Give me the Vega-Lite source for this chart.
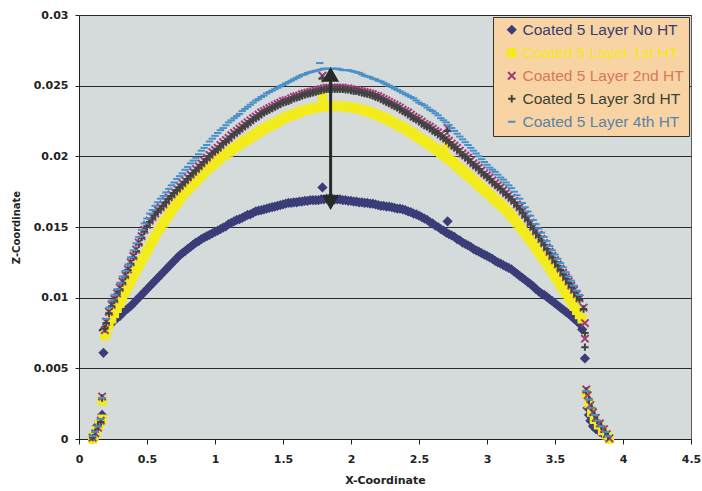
{
"$schema":"https://vega.github.io/schema/vega-lite/v6.json",
"width":612,"height":424,
"autosize":{"type":"none"},
"padding":{"left":79,"top":15,"right":11,"bottom":52},
"background":"white",
"config":{"view":{"fill":"#d5dbdb","stroke":"#5a5a5a","strokeWidth":1}},
"encoding":{
 "x":{"field":"x","type":"quantitative","scale":{"domain":[0,4.5],"nice":false,"zero":false},
  "axis":{"title":"X-Coordinate","values":[0,0.5,1,1.5,2,2.5,3,3.5,4,4.5],"format":"~g","grid":false,
   "labelFont":"DejaVu Sans","labelFontWeight":"bold","labelFontSize":11,"labelColor":"#222","labelPadding":9,
   "tickColor":"#222","tickSize":5,"domainColor":"#222","labelFlush":false,
   "titleFont":"DejaVu Sans","titleFontWeight":"bold","titleFontSize":11,"titleColor":"#222","titlePadding":10}},
 "y":{"field":"z","type":"quantitative","scale":{"domain":[0,0.03],"nice":false},
  "axis":{"title":"Z-Coordinate","values":[0,0.005,0.01,0.015,0.02,0.025,0.03],"format":"~g","grid":true,"gridColor":"#2a2a2a","gridOpacity":1,"gridWidth":1,
   "labelFont":"DejaVu Sans","labelFontWeight":"bold","labelFontSize":11,"labelColor":"#222","labelPadding":7,
   "tickColor":"#222","tickSize":4,"domainColor":"#222",
   "titleFont":"DejaVu Sans","titleFontWeight":"bold","titleFontSize":10,"titleColor":"#222","titlePadding":12}}
},
"layer":[
{
"data":{"values":[
{"s":"No HT","x":0.10,"z":0.0000},{"s":"No HT","x":0.11,"z":0.0003},{"s":"No HT","x":0.13,"z":0.0009},{"s":"No HT","x":0.15,"z":0.0012},{"s":"No HT","x":0.17,"z":0.0017},{"s":"No HT","x":0.18,"z":0.0061},
{"s":"No HT","x":0.18,"z":0.0077},{"s":"No HT","x":0.20,"z":0.00785},{"s":"No HT","x":0.22,"z":0.0080},{"s":"No HT","x":0.24,"z":0.0082},{"s":"No HT","x":0.26,"z":0.0084},{"s":"No HT","x":0.28,"z":0.00855},{"s":"No HT","x":0.30,"z":0.0087},{"s":"No HT","x":0.32,"z":0.0089},{"s":"No HT","x":0.34,"z":0.0091},{"s":"No HT","x":0.36,"z":0.00925},{"s":"No HT","x":0.38,"z":0.0094},{"s":"No HT","x":0.40,"z":0.0096},{"s":"No HT","x":0.42,"z":0.0098},{"s":"No HT","x":0.44,"z":0.0100},{"s":"No HT","x":0.46,"z":0.0102},{"s":"No HT","x":0.48,"z":0.0104},{"s":"No HT","x":0.50,"z":0.0106},{"s":"No HT","x":0.52,"z":0.0108},{"s":"No HT","x":0.54,"z":0.0110},{"s":"No HT","x":0.56,"z":0.0112},{"s":"No HT","x":0.58,"z":0.0114},{"s":"No HT","x":0.60,"z":0.0116},{"s":"No HT","x":0.62,"z":0.0118},{"s":"No HT","x":0.64,"z":0.0120},{"s":"No HT","x":0.66,"z":0.0122},{"s":"No HT","x":0.68,"z":0.0124},{"s":"No HT","x":0.70,"z":0.0126},{"s":"No HT","x":0.72,"z":0.0128},{"s":"No HT","x":0.74,"z":0.0130},{"s":"No HT","x":0.76,"z":0.01315},{"s":"No HT","x":0.78,"z":0.0133},{"s":"No HT","x":0.80,"z":0.01345},{"s":"No HT","x":0.82,"z":0.0136},{"s":"No HT","x":0.84,"z":0.01375},{"s":"No HT","x":0.86,"z":0.0139},{"s":"No HT","x":0.88,"z":0.0140},{"s":"No HT","x":0.90,"z":0.01415},{"s":"No HT","x":0.92,"z":0.01425},{"s":"No HT","x":0.94,"z":0.01435},{"s":"No HT","x":0.96,"z":0.01445},{"s":"No HT","x":0.98,"z":0.01455},{"s":"No HT","x":1.00,"z":0.01465},{"s":"No HT","x":1.02,"z":0.01475},{"s":"No HT","x":1.04,"z":0.01485},{"s":"No HT","x":1.06,"z":0.01495},{"s":"No HT","x":1.08,"z":0.01505},{"s":"No HT","x":1.10,"z":0.0152},{"s":"No HT","x":1.12,"z":0.0153},{"s":"No HT","x":1.14,"z":0.0154},{"s":"No HT","x":1.16,"z":0.0155},{"s":"No HT","x":1.18,"z":0.01555},{"s":"No HT","x":1.20,"z":0.01565},{"s":"No HT","x":1.22,"z":0.01575},{"s":"No HT","x":1.24,"z":0.01585},{"s":"No HT","x":1.26,"z":0.0159},{"s":"No HT","x":1.28,"z":0.0160},{"s":"No HT","x":1.30,"z":0.0161},{"s":"No HT","x":1.32,"z":0.01615},{"s":"No HT","x":1.34,"z":0.0162},{"s":"No HT","x":1.36,"z":0.01625},{"s":"No HT","x":1.38,"z":0.0163},{"s":"No HT","x":1.40,"z":0.01635},{"s":"No HT","x":1.42,"z":0.0164},{"s":"No HT","x":1.44,"z":0.01645},{"s":"No HT","x":1.46,"z":0.0165},{"s":"No HT","x":1.48,"z":0.01655},{"s":"No HT","x":1.50,"z":0.0166},{"s":"No HT","x":1.52,"z":0.01665},{"s":"No HT","x":1.54,"z":0.0167},{"s":"No HT","x":1.56,"z":0.0167},{"s":"No HT","x":1.58,"z":0.01675},{"s":"No HT","x":1.60,"z":0.01675},{"s":"No HT","x":1.62,"z":0.0168},{"s":"No HT","x":1.64,"z":0.0168},{"s":"No HT","x":1.66,"z":0.01685},{"s":"No HT","x":1.68,"z":0.01685},{"s":"No HT","x":1.70,"z":0.0169},{"s":"No HT","x":1.72,"z":0.0169},{"s":"No HT","x":1.74,"z":0.0169},{"s":"No HT","x":1.76,"z":0.0169},{"s":"No HT","x":1.78,"z":0.01695},{"s":"No HT","x":1.79,"z":0.0178},{"s":"No HT","x":1.80,"z":0.01695},{"s":"No HT","x":1.82,"z":0.0170},{"s":"No HT","x":1.84,"z":0.0170},{"s":"No HT","x":1.86,"z":0.0170},{"s":"No HT","x":1.88,"z":0.01695},{"s":"No HT","x":1.90,"z":0.01695},{"s":"No HT","x":1.92,"z":0.01695},{"s":"No HT","x":1.94,"z":0.0169},{"s":"No HT","x":1.96,"z":0.0169},{"s":"No HT","x":1.98,"z":0.01685},{"s":"No HT","x":2.00,"z":0.01685},{"s":"No HT","x":2.02,"z":0.0168},{"s":"No HT","x":2.04,"z":0.0168},{"s":"No HT","x":2.06,"z":0.01675},{"s":"No HT","x":2.08,"z":0.01675},{"s":"No HT","x":2.10,"z":0.0167},{"s":"No HT","x":2.12,"z":0.0167},{"s":"No HT","x":2.14,"z":0.01665},{"s":"No HT","x":2.16,"z":0.01665},{"s":"No HT","x":2.18,"z":0.0166},{"s":"No HT","x":2.20,"z":0.01655},{"s":"No HT","x":2.22,"z":0.0165},{"s":"No HT","x":2.24,"z":0.0165},{"s":"No HT","x":2.26,"z":0.01645},{"s":"No HT","x":2.28,"z":0.01645},{"s":"No HT","x":2.30,"z":0.0164},{"s":"No HT","x":2.32,"z":0.01635},{"s":"No HT","x":2.34,"z":0.0163},{"s":"No HT","x":2.36,"z":0.0163},{"s":"No HT","x":2.38,"z":0.01625},{"s":"No HT","x":2.40,"z":0.0162},{"s":"No HT","x":2.42,"z":0.0161},{"s":"No HT","x":2.44,"z":0.01605},{"s":"No HT","x":2.46,"z":0.01595},{"s":"No HT","x":2.48,"z":0.0159},{"s":"No HT","x":2.50,"z":0.0158},{"s":"No HT","x":2.52,"z":0.0157},{"s":"No HT","x":2.54,"z":0.0156},{"s":"No HT","x":2.56,"z":0.0155},{"s":"No HT","x":2.58,"z":0.01535},{"s":"No HT","x":2.60,"z":0.01525},{"s":"No HT","x":2.62,"z":0.0151},{"s":"No HT","x":2.64,"z":0.0150},{"s":"No HT","x":2.66,"z":0.01485},{"s":"No HT","x":2.68,"z":0.01475},{"s":"No HT","x":2.70,"z":0.0146},{"s":"No HT","x":2.71,"z":0.0154},{"s":"No HT","x":2.72,"z":0.0145},{"s":"No HT","x":2.74,"z":0.0144},{"s":"No HT","x":2.76,"z":0.0143},{"s":"No HT","x":2.78,"z":0.01415},{"s":"No HT","x":2.80,"z":0.01405},{"s":"No HT","x":2.82,"z":0.0139},{"s":"No HT","x":2.84,"z":0.0138},{"s":"No HT","x":2.86,"z":0.0137},{"s":"No HT","x":2.88,"z":0.0136},{"s":"No HT","x":2.90,"z":0.01345},{"s":"No HT","x":2.92,"z":0.01335},{"s":"No HT","x":2.94,"z":0.01325},{"s":"No HT","x":2.96,"z":0.01315},{"s":"No HT","x":2.98,"z":0.01305},{"s":"No HT","x":3.00,"z":0.01295},{"s":"No HT","x":3.02,"z":0.01285},{"s":"No HT","x":3.04,"z":0.01275},{"s":"No HT","x":3.06,"z":0.0126},{"s":"No HT","x":3.08,"z":0.0125},{"s":"No HT","x":3.10,"z":0.0124},{"s":"No HT","x":3.12,"z":0.0123},{"s":"No HT","x":3.14,"z":0.0122},{"s":"No HT","x":3.16,"z":0.0121},{"s":"No HT","x":3.18,"z":0.0120},{"s":"No HT","x":3.20,"z":0.01185},{"s":"No HT","x":3.22,"z":0.0117},{"s":"No HT","x":3.24,"z":0.01155},{"s":"No HT","x":3.26,"z":0.0114},{"s":"No HT","x":3.28,"z":0.01125},{"s":"No HT","x":3.30,"z":0.0111},{"s":"No HT","x":3.32,"z":0.01095},{"s":"No HT","x":3.34,"z":0.0108},{"s":"No HT","x":3.36,"z":0.0106},{"s":"No HT","x":3.38,"z":0.01045},{"s":"No HT","x":3.40,"z":0.0103},{"s":"No HT","x":3.42,"z":0.0102},{"s":"No HT","x":3.44,"z":0.01005},{"s":"No HT","x":3.46,"z":0.0099},{"s":"No HT","x":3.48,"z":0.00975},{"s":"No HT","x":3.50,"z":0.0096},{"s":"No HT","x":3.52,"z":0.00945},{"s":"No HT","x":3.54,"z":0.0093},{"s":"No HT","x":3.56,"z":0.00915},{"s":"No HT","x":3.58,"z":0.0090},{"s":"No HT","x":3.60,"z":0.00885},{"s":"No HT","x":3.62,"z":0.0087},{"s":"No HT","x":3.64,"z":0.0085},{"s":"No HT","x":3.66,"z":0.00835},{"s":"No HT","x":3.68,"z":0.00815},{"s":"No HT","x":3.70,"z":0.00775},{"s":"No HT","x":3.72,"z":0.0057},{"s":"No HT","x":3.74,"z":0.0022},{"s":"No HT","x":3.75,"z":0.0017},{"s":"No HT","x":3.76,"z":0.0013},{"s":"No HT","x":3.78,"z":0.0009},{"s":"No HT","x":3.80,"z":0.0007},{"s":"No HT","x":3.83,"z":0.0005},{"s":"No HT","x":3.86,"z":0.0003},{"s":"No HT","x":3.88,"z":0.0001},

{"s":"1st HT","x":0.10,"z":0.0000},{"s":"1st HT","x":0.11,"z":0.0002},{"s":"1st HT","x":0.13,"z":0.0006},{"s":"1st HT","x":0.15,"z":0.0010},{"s":"1st HT","x":0.17,"z":0.0014},{"s":"1st HT","x":0.17,"z":0.0027},
{"s":"1st HT","x":0.19,"z":0.0073},{"s":"1st HT","x":0.20,"z":0.0076},{"s":"1st HT","x":0.24,"z":0.0085},{"s":"1st HT","x":0.28,"z":0.00925},{"s":"1st HT","x":0.32,"z":0.0100},{"s":"1st HT","x":0.36,"z":0.01075},{"s":"1st HT","x":0.40,"z":0.0115},{"s":"1st HT","x":0.44,"z":0.01225},{"s":"1st HT","x":0.48,"z":0.01295},{"s":"1st HT","x":0.52,"z":0.01365},{"s":"1st HT","x":0.56,"z":0.01435},{"s":"1st HT","x":0.60,"z":0.0150},{"s":"1st HT","x":0.64,"z":0.0156},{"s":"1st HT","x":0.68,"z":0.01615},{"s":"1st HT","x":0.72,"z":0.0167},{"s":"1st HT","x":0.76,"z":0.0172},{"s":"1st HT","x":0.80,"z":0.01765},{"s":"1st HT","x":0.84,"z":0.01805},{"s":"1st HT","x":0.88,"z":0.01845},{"s":"1st HT","x":0.92,"z":0.01885},{"s":"1st HT","x":0.96,"z":0.0192},{"s":"1st HT","x":1.00,"z":0.01955},{"s":"1st HT","x":1.04,"z":0.0199},{"s":"1st HT","x":1.08,"z":0.02015},{"s":"1st HT","x":1.12,"z":0.02045},{"s":"1st HT","x":1.16,"z":0.0207},{"s":"1st HT","x":1.20,"z":0.02095},{"s":"1st HT","x":1.24,"z":0.0212},{"s":"1st HT","x":1.28,"z":0.02145},{"s":"1st HT","x":1.32,"z":0.0217},{"s":"1st HT","x":1.36,"z":0.02195},{"s":"1st HT","x":1.40,"z":0.02215},{"s":"1st HT","x":1.44,"z":0.02235},{"s":"1st HT","x":1.48,"z":0.02255},{"s":"1st HT","x":1.52,"z":0.02275},{"s":"1st HT","x":1.56,"z":0.0229},{"s":"1st HT","x":1.60,"z":0.02305},{"s":"1st HT","x":1.64,"z":0.0232},{"s":"1st HT","x":1.68,"z":0.0233},{"s":"1st HT","x":1.72,"z":0.0234},{"s":"1st HT","x":1.76,"z":0.02345},{"s":"1st HT","x":1.79,"z":0.0242},{"s":"1st HT","x":1.80,"z":0.0235},{"s":"1st HT","x":1.84,"z":0.02355},{"s":"1st HT","x":1.88,"z":0.02355},{"s":"1st HT","x":1.92,"z":0.02355},{"s":"1st HT","x":1.96,"z":0.0235},{"s":"1st HT","x":2.00,"z":0.02345},{"s":"1st HT","x":2.04,"z":0.0234},{"s":"1st HT","x":2.08,"z":0.0233},{"s":"1st HT","x":2.12,"z":0.0232},{"s":"1st HT","x":2.16,"z":0.02305},{"s":"1st HT","x":2.20,"z":0.0229},{"s":"1st HT","x":2.24,"z":0.02275},{"s":"1st HT","x":2.28,"z":0.02255},{"s":"1st HT","x":2.32,"z":0.02235},{"s":"1st HT","x":2.36,"z":0.02215},{"s":"1st HT","x":2.40,"z":0.02195},{"s":"1st HT","x":2.44,"z":0.0217},{"s":"1st HT","x":2.48,"z":0.02145},{"s":"1st HT","x":2.52,"z":0.0212},{"s":"1st HT","x":2.56,"z":0.02095},{"s":"1st HT","x":2.60,"z":0.0207},{"s":"1st HT","x":2.64,"z":0.0204},{"s":"1st HT","x":2.68,"z":0.0201},{"s":"1st HT","x":2.71,"z":0.0208},{"s":"1st HT","x":2.72,"z":0.0198},{"s":"1st HT","x":2.76,"z":0.0195},{"s":"1st HT","x":2.80,"z":0.01915},{"s":"1st HT","x":2.84,"z":0.0188},{"s":"1st HT","x":2.88,"z":0.0185},{"s":"1st HT","x":2.92,"z":0.01815},{"s":"1st HT","x":2.96,"z":0.0178},{"s":"1st HT","x":3.00,"z":0.01745},{"s":"1st HT","x":3.04,"z":0.0171},{"s":"1st HT","x":3.08,"z":0.01675},{"s":"1st HT","x":3.12,"z":0.0164},{"s":"1st HT","x":3.16,"z":0.0160},{"s":"1st HT","x":3.20,"z":0.01555},{"s":"1st HT","x":3.24,"z":0.01505},{"s":"1st HT","x":3.28,"z":0.01455},{"s":"1st HT","x":3.32,"z":0.01405},{"s":"1st HT","x":3.36,"z":0.0135},{"s":"1st HT","x":3.40,"z":0.01295},{"s":"1st HT","x":3.44,"z":0.0124},{"s":"1st HT","x":3.48,"z":0.0118},{"s":"1st HT","x":3.52,"z":0.0112},{"s":"1st HT","x":3.56,"z":0.0106},{"s":"1st HT","x":3.60,"z":0.0100},{"s":"1st HT","x":3.64,"z":0.0094},{"s":"1st HT","x":3.68,"z":0.0088},{"s":"1st HT","x":3.70,"z":0.0085},
{"s":"1st HT","x":0.22,"z":0.00805},{"s":"1st HT","x":0.26,"z":0.0089},{"s":"1st HT","x":0.30,"z":0.0096},{"s":"1st HT","x":0.34,"z":0.0104},{"s":"1st HT","x":0.38,"z":0.0111},{"s":"1st HT","x":0.42,"z":0.0119},{"s":"1st HT","x":0.46,"z":0.0126},{"s":"1st HT","x":0.50,"z":0.0133},{"s":"1st HT","x":0.54,"z":0.0140},{"s":"1st HT","x":0.58,"z":0.0147},{"s":"1st HT","x":0.62,"z":0.0153},{"s":"1st HT","x":0.66,"z":0.0159},{"s":"1st HT","x":0.70,"z":0.01645},{"s":"1st HT","x":0.74,"z":0.01695},{"s":"1st HT","x":0.78,"z":0.01745},{"s":"1st HT","x":0.82,"z":0.01785},{"s":"1st HT","x":0.86,"z":0.01825},{"s":"1st HT","x":0.90,"z":0.01865},{"s":"1st HT","x":0.94,"z":0.01905},{"s":"1st HT","x":0.98,"z":0.0194},{"s":"1st HT","x":1.02,"z":0.0197},{"s":"1st HT","x":1.06,"z":0.02005},{"s":"1st HT","x":1.10,"z":0.0203},{"s":"1st HT","x":1.14,"z":0.0206},{"s":"1st HT","x":1.18,"z":0.02085},{"s":"1st HT","x":1.22,"z":0.0211},{"s":"1st HT","x":1.26,"z":0.02135},{"s":"1st HT","x":1.30,"z":0.0216},{"s":"1st HT","x":1.34,"z":0.02185},{"s":"1st HT","x":1.38,"z":0.02205},{"s":"1st HT","x":1.42,"z":0.02225},{"s":"1st HT","x":1.46,"z":0.02245},{"s":"1st HT","x":1.50,"z":0.02265},{"s":"1st HT","x":1.54,"z":0.02285},{"s":"1st HT","x":1.58,"z":0.0230},{"s":"1st HT","x":1.62,"z":0.0231},{"s":"1st HT","x":1.66,"z":0.02325},{"s":"1st HT","x":1.70,"z":0.02335},{"s":"1st HT","x":1.74,"z":0.02345},{"s":"1st HT","x":1.78,"z":0.0235},{"s":"1st HT","x":1.82,"z":0.02355},{"s":"1st HT","x":1.86,"z":0.02355},{"s":"1st HT","x":1.90,"z":0.02355},{"s":"1st HT","x":1.94,"z":0.02355},{"s":"1st HT","x":1.98,"z":0.0235},{"s":"1st HT","x":2.02,"z":0.02345},{"s":"1st HT","x":2.06,"z":0.02335},{"s":"1st HT","x":2.10,"z":0.02325},{"s":"1st HT","x":2.14,"z":0.0231},{"s":"1st HT","x":2.18,"z":0.0230},{"s":"1st HT","x":2.22,"z":0.0228},{"s":"1st HT","x":2.26,"z":0.02265},{"s":"1st HT","x":2.30,"z":0.02245},{"s":"1st HT","x":2.34,"z":0.02225},{"s":"1st HT","x":2.38,"z":0.02205},{"s":"1st HT","x":2.42,"z":0.0218},{"s":"1st HT","x":2.46,"z":0.0216},{"s":"1st HT","x":2.50,"z":0.0213},{"s":"1st HT","x":2.54,"z":0.0211},{"s":"1st HT","x":2.58,"z":0.0208},{"s":"1st HT","x":2.62,"z":0.02055},{"s":"1st HT","x":2.66,"z":0.02025},{"s":"1st HT","x":2.70,"z":0.01995},{"s":"1st HT","x":2.74,"z":0.01965},{"s":"1st HT","x":2.78,"z":0.0193},{"s":"1st HT","x":2.82,"z":0.0190},{"s":"1st HT","x":2.86,"z":0.01865},{"s":"1st HT","x":2.90,"z":0.0183},{"s":"1st HT","x":2.94,"z":0.01795},{"s":"1st HT","x":2.98,"z":0.0176},{"s":"1st HT","x":3.02,"z":0.0173},{"s":"1st HT","x":3.06,"z":0.0169},{"s":"1st HT","x":3.10,"z":0.0166},{"s":"1st HT","x":3.14,"z":0.0162},{"s":"1st HT","x":3.18,"z":0.0158},{"s":"1st HT","x":3.22,"z":0.0153},{"s":"1st HT","x":3.26,"z":0.0148},{"s":"1st HT","x":3.30,"z":0.0143},{"s":"1st HT","x":3.34,"z":0.0138},{"s":"1st HT","x":3.38,"z":0.0132},{"s":"1st HT","x":3.42,"z":0.0127},{"s":"1st HT","x":3.46,"z":0.0121},{"s":"1st HT","x":3.50,"z":0.0115},{"s":"1st HT","x":3.54,"z":0.0109},{"s":"1st HT","x":3.58,"z":0.0103},{"s":"1st HT","x":3.62,"z":0.0097},{"s":"1st HT","x":3.66,"z":0.0091},
{"s":"1st HT","x":3.73,"z":0.0032},{"s":"1st HT","x":3.75,"z":0.0025},{"s":"1st HT","x":3.77,"z":0.0019},{"s":"1st HT","x":3.79,"z":0.0014},{"s":"1st HT","x":3.82,"z":0.0010},{"s":"1st HT","x":3.85,"z":0.0006},{"s":"1st HT","x":3.88,"z":0.0003},{"s":"1st HT","x":3.90,"z":0.0000},

{"s":"2nd HT","x":0.10,"z":0.0001},{"s":"2nd HT","x":0.12,"z":0.0004},{"s":"2nd HT","x":0.14,"z":0.0008},{"s":"2nd HT","x":0.16,"z":0.0013},{"s":"2nd HT","x":0.17,"z":0.0030},
{"s":"2nd HT","x":0.19,"z":0.0077},{"s":"2nd HT","x":0.20,"z":0.0083},{"s":"2nd HT","x":0.24,"z":0.0095},{"s":"2nd HT","x":0.28,"z":0.0103},{"s":"2nd HT","x":0.32,"z":0.01115},{"s":"2nd HT","x":0.36,"z":0.0120},{"s":"2nd HT","x":0.40,"z":0.01295},{"s":"2nd HT","x":0.44,"z":0.0139},{"s":"2nd HT","x":0.48,"z":0.0148},{"s":"2nd HT","x":0.52,"z":0.01545},{"s":"2nd HT","x":0.56,"z":0.01595},{"s":"2nd HT","x":0.60,"z":0.0164},{"s":"2nd HT","x":0.64,"z":0.01685},{"s":"2nd HT","x":0.68,"z":0.0173},{"s":"2nd HT","x":0.72,"z":0.0177},{"s":"2nd HT","x":0.76,"z":0.0181},{"s":"2nd HT","x":0.80,"z":0.0185},{"s":"2nd HT","x":0.84,"z":0.0189},{"s":"2nd HT","x":0.88,"z":0.0193},{"s":"2nd HT","x":0.92,"z":0.0197},{"s":"2nd HT","x":0.96,"z":0.0201},{"s":"2nd HT","x":1.00,"z":0.02045},{"s":"2nd HT","x":1.04,"z":0.0208},{"s":"2nd HT","x":1.08,"z":0.02115},{"s":"2nd HT","x":1.12,"z":0.0215},{"s":"2nd HT","x":1.16,"z":0.0218},{"s":"2nd HT","x":1.20,"z":0.0221},{"s":"2nd HT","x":1.24,"z":0.0224},{"s":"2nd HT","x":1.28,"z":0.0227},{"s":"2nd HT","x":1.32,"z":0.02295},{"s":"2nd HT","x":1.36,"z":0.0232},{"s":"2nd HT","x":1.40,"z":0.0234},{"s":"2nd HT","x":1.44,"z":0.0236},{"s":"2nd HT","x":1.48,"z":0.0238},{"s":"2nd HT","x":1.52,"z":0.02395},{"s":"2nd HT","x":1.56,"z":0.0241},{"s":"2nd HT","x":1.60,"z":0.02425},{"s":"2nd HT","x":1.64,"z":0.0244},{"s":"2nd HT","x":1.68,"z":0.0245},{"s":"2nd HT","x":1.72,"z":0.0246},{"s":"2nd HT","x":1.76,"z":0.0247},{"s":"2nd HT","x":1.79,"z":0.0257},{"s":"2nd HT","x":1.80,"z":0.0248},{"s":"2nd HT","x":1.84,"z":0.02485},{"s":"2nd HT","x":1.88,"z":0.02485},{"s":"2nd HT","x":1.92,"z":0.02485},{"s":"2nd HT","x":1.96,"z":0.0248},{"s":"2nd HT","x":2.00,"z":0.02475},{"s":"2nd HT","x":2.04,"z":0.0247},{"s":"2nd HT","x":2.08,"z":0.0246},{"s":"2nd HT","x":2.12,"z":0.0245},{"s":"2nd HT","x":2.16,"z":0.0244},{"s":"2nd HT","x":2.20,"z":0.02425},{"s":"2nd HT","x":2.24,"z":0.02405},{"s":"2nd HT","x":2.28,"z":0.02385},{"s":"2nd HT","x":2.32,"z":0.02365},{"s":"2nd HT","x":2.36,"z":0.02345},{"s":"2nd HT","x":2.40,"z":0.0232},{"s":"2nd HT","x":2.44,"z":0.02295},{"s":"2nd HT","x":2.48,"z":0.0227},{"s":"2nd HT","x":2.52,"z":0.02245},{"s":"2nd HT","x":2.56,"z":0.0222},{"s":"2nd HT","x":2.60,"z":0.02195},{"s":"2nd HT","x":2.64,"z":0.0217},{"s":"2nd HT","x":2.68,"z":0.0214},{"s":"2nd HT","x":2.71,"z":0.0220},{"s":"2nd HT","x":2.72,"z":0.0211},{"s":"2nd HT","x":2.76,"z":0.02075},{"s":"2nd HT","x":2.80,"z":0.0204},{"s":"2nd HT","x":2.84,"z":0.02005},{"s":"2nd HT","x":2.88,"z":0.0197},{"s":"2nd HT","x":2.92,"z":0.01935},{"s":"2nd HT","x":2.96,"z":0.0190},{"s":"2nd HT","x":3.00,"z":0.01865},{"s":"2nd HT","x":3.04,"z":0.0183},{"s":"2nd HT","x":3.08,"z":0.01795},{"s":"2nd HT","x":3.12,"z":0.0176},{"s":"2nd HT","x":3.16,"z":0.01725},{"s":"2nd HT","x":3.20,"z":0.01685},{"s":"2nd HT","x":3.24,"z":0.0164},{"s":"2nd HT","x":3.28,"z":0.01585},{"s":"2nd HT","x":3.32,"z":0.0153},{"s":"2nd HT","x":3.36,"z":0.0147},{"s":"2nd HT","x":3.40,"z":0.01415},{"s":"2nd HT","x":3.44,"z":0.01355},{"s":"2nd HT","x":3.48,"z":0.01295},{"s":"2nd HT","x":3.52,"z":0.01235},{"s":"2nd HT","x":3.56,"z":0.01175},{"s":"2nd HT","x":3.60,"z":0.01115},{"s":"2nd HT","x":3.64,"z":0.01055},{"s":"2nd HT","x":3.68,"z":0.00995},{"s":"2nd HT","x":3.71,"z":0.0093},{"s":"2nd HT","x":3.72,"z":0.0082},{"s":"2nd HT","x":3.72,"z":0.0071},
{"s":"2nd HT","x":0.22,"z":0.0090},{"s":"2nd HT","x":0.26,"z":0.0099},{"s":"2nd HT","x":0.30,"z":0.0107},{"s":"2nd HT","x":0.34,"z":0.0116},{"s":"2nd HT","x":0.38,"z":0.0125},{"s":"2nd HT","x":0.42,"z":0.0134},{"s":"2nd HT","x":0.46,"z":0.01435},{"s":"2nd HT","x":0.50,"z":0.01515},{"s":"2nd HT","x":0.54,"z":0.0157},{"s":"2nd HT","x":0.58,"z":0.0162},{"s":"2nd HT","x":0.62,"z":0.0166},{"s":"2nd HT","x":0.66,"z":0.0171},{"s":"2nd HT","x":0.70,"z":0.0175},{"s":"2nd HT","x":0.74,"z":0.0179},{"s":"2nd HT","x":0.78,"z":0.0183},{"s":"2nd HT","x":0.82,"z":0.0187},{"s":"2nd HT","x":0.86,"z":0.0191},{"s":"2nd HT","x":0.90,"z":0.0195},{"s":"2nd HT","x":0.94,"z":0.0199},{"s":"2nd HT","x":0.98,"z":0.0203},{"s":"2nd HT","x":1.02,"z":0.0206},{"s":"2nd HT","x":1.06,"z":0.0210},{"s":"2nd HT","x":1.10,"z":0.0213},{"s":"2nd HT","x":1.14,"z":0.02165},{"s":"2nd HT","x":1.18,"z":0.02195},{"s":"2nd HT","x":1.22,"z":0.02225},{"s":"2nd HT","x":1.26,"z":0.02255},{"s":"2nd HT","x":1.30,"z":0.0228},{"s":"2nd HT","x":1.34,"z":0.0231},{"s":"2nd HT","x":1.38,"z":0.0233},{"s":"2nd HT","x":1.42,"z":0.0235},{"s":"2nd HT","x":1.46,"z":0.0237},{"s":"2nd HT","x":1.50,"z":0.0239},{"s":"2nd HT","x":1.54,"z":0.0240},{"s":"2nd HT","x":1.58,"z":0.0242},{"s":"2nd HT","x":1.62,"z":0.0243},{"s":"2nd HT","x":1.66,"z":0.02445},{"s":"2nd HT","x":1.70,"z":0.02455},{"s":"2nd HT","x":1.74,"z":0.02465},{"s":"2nd HT","x":1.78,"z":0.02475},{"s":"2nd HT","x":1.82,"z":0.02485},{"s":"2nd HT","x":1.86,"z":0.02485},{"s":"2nd HT","x":1.90,"z":0.02485},{"s":"2nd HT","x":1.94,"z":0.02485},{"s":"2nd HT","x":1.98,"z":0.0248},{"s":"2nd HT","x":2.02,"z":0.0247},{"s":"2nd HT","x":2.06,"z":0.02465},{"s":"2nd HT","x":2.10,"z":0.02455},{"s":"2nd HT","x":2.14,"z":0.02445},{"s":"2nd HT","x":2.18,"z":0.0243},{"s":"2nd HT","x":2.22,"z":0.02415},{"s":"2nd HT","x":2.26,"z":0.02395},{"s":"2nd HT","x":2.30,"z":0.02375},{"s":"2nd HT","x":2.34,"z":0.02355},{"s":"2nd HT","x":2.38,"z":0.0233},{"s":"2nd HT","x":2.42,"z":0.0231},{"s":"2nd HT","x":2.46,"z":0.0228},{"s":"2nd HT","x":2.50,"z":0.0226},{"s":"2nd HT","x":2.54,"z":0.0223},{"s":"2nd HT","x":2.58,"z":0.0221},{"s":"2nd HT","x":2.62,"z":0.0218},{"s":"2nd HT","x":2.66,"z":0.02155},{"s":"2nd HT","x":2.70,"z":0.02125},{"s":"2nd HT","x":2.74,"z":0.0209},{"s":"2nd HT","x":2.78,"z":0.0206},{"s":"2nd HT","x":2.82,"z":0.0202},{"s":"2nd HT","x":2.86,"z":0.0199},{"s":"2nd HT","x":2.90,"z":0.0195},{"s":"2nd HT","x":2.94,"z":0.0192},{"s":"2nd HT","x":2.98,"z":0.0188},{"s":"2nd HT","x":3.02,"z":0.0185},{"s":"2nd HT","x":3.06,"z":0.0181},{"s":"2nd HT","x":3.10,"z":0.0178},{"s":"2nd HT","x":3.14,"z":0.0174},{"s":"2nd HT","x":3.18,"z":0.01705},{"s":"2nd HT","x":3.22,"z":0.0166},{"s":"2nd HT","x":3.26,"z":0.0161},{"s":"2nd HT","x":3.30,"z":0.0156},{"s":"2nd HT","x":3.34,"z":0.0150},{"s":"2nd HT","x":3.38,"z":0.01445},{"s":"2nd HT","x":3.42,"z":0.01385},{"s":"2nd HT","x":3.46,"z":0.01325},{"s":"2nd HT","x":3.50,"z":0.01265},{"s":"2nd HT","x":3.54,"z":0.01205},{"s":"2nd HT","x":3.58,"z":0.01145},{"s":"2nd HT","x":3.62,"z":0.01085},{"s":"2nd HT","x":3.66,"z":0.01025},
{"s":"2nd HT","x":3.73,"z":0.0035},{"s":"2nd HT","x":3.74,"z":0.0031},{"s":"2nd HT","x":3.76,"z":0.0024},{"s":"2nd HT","x":3.78,"z":0.0019},{"s":"2nd HT","x":3.80,"z":0.0015},{"s":"2nd HT","x":3.83,"z":0.0011},{"s":"2nd HT","x":3.86,"z":0.0007},{"s":"2nd HT","x":3.88,"z":0.00035},{"s":"2nd HT","x":3.90,"z":0.00005},

{"s":"3rd HT","x":0.10,"z":0.0001},{"s":"3rd HT","x":0.12,"z":0.0005},{"s":"3rd HT","x":0.14,"z":0.0009},{"s":"3rd HT","x":0.16,"z":0.0012},{"s":"3rd HT","x":0.17,"z":0.0029},
{"s":"3rd HT","x":0.19,"z":0.0078},{"s":"3rd HT","x":0.20,"z":0.0082},{"s":"3rd HT","x":0.24,"z":0.0094},{"s":"3rd HT","x":0.28,"z":0.01025},{"s":"3rd HT","x":0.32,"z":0.01105},{"s":"3rd HT","x":0.36,"z":0.01195},{"s":"3rd HT","x":0.40,"z":0.01285},{"s":"3rd HT","x":0.44,"z":0.0138},{"s":"3rd HT","x":0.48,"z":0.0147},{"s":"3rd HT","x":0.52,"z":0.01535},{"s":"3rd HT","x":0.56,"z":0.0159},{"s":"3rd HT","x":0.60,"z":0.0163},{"s":"3rd HT","x":0.64,"z":0.01675},{"s":"3rd HT","x":0.68,"z":0.0172},{"s":"3rd HT","x":0.72,"z":0.0176},{"s":"3rd HT","x":0.76,"z":0.0180},{"s":"3rd HT","x":0.80,"z":0.0184},{"s":"3rd HT","x":0.84,"z":0.0188},{"s":"3rd HT","x":0.88,"z":0.0192},{"s":"3rd HT","x":0.92,"z":0.0196},{"s":"3rd HT","x":0.96,"z":0.0200},{"s":"3rd HT","x":1.00,"z":0.02035},{"s":"3rd HT","x":1.04,"z":0.0207},{"s":"3rd HT","x":1.08,"z":0.02105},{"s":"3rd HT","x":1.12,"z":0.0214},{"s":"3rd HT","x":1.16,"z":0.0217},{"s":"3rd HT","x":1.20,"z":0.0220},{"s":"3rd HT","x":1.24,"z":0.0223},{"s":"3rd HT","x":1.28,"z":0.0226},{"s":"3rd HT","x":1.32,"z":0.02285},{"s":"3rd HT","x":1.36,"z":0.0231},{"s":"3rd HT","x":1.40,"z":0.0233},{"s":"3rd HT","x":1.44,"z":0.0235},{"s":"3rd HT","x":1.48,"z":0.0237},{"s":"3rd HT","x":1.52,"z":0.02385},{"s":"3rd HT","x":1.56,"z":0.0240},{"s":"3rd HT","x":1.60,"z":0.02415},{"s":"3rd HT","x":1.64,"z":0.0243},{"s":"3rd HT","x":1.68,"z":0.0244},{"s":"3rd HT","x":1.72,"z":0.0245},{"s":"3rd HT","x":1.76,"z":0.0246},{"s":"3rd HT","x":1.79,"z":0.0255},{"s":"3rd HT","x":1.80,"z":0.0247},{"s":"3rd HT","x":1.84,"z":0.02475},{"s":"3rd HT","x":1.88,"z":0.02475},{"s":"3rd HT","x":1.92,"z":0.02475},{"s":"3rd HT","x":1.96,"z":0.0247},{"s":"3rd HT","x":2.00,"z":0.02465},{"s":"3rd HT","x":2.04,"z":0.0246},{"s":"3rd HT","x":2.08,"z":0.0245},{"s":"3rd HT","x":2.12,"z":0.0244},{"s":"3rd HT","x":2.16,"z":0.0243},{"s":"3rd HT","x":2.20,"z":0.02415},{"s":"3rd HT","x":2.24,"z":0.02395},{"s":"3rd HT","x":2.28,"z":0.02375},{"s":"3rd HT","x":2.32,"z":0.02355},{"s":"3rd HT","x":2.36,"z":0.02335},{"s":"3rd HT","x":2.40,"z":0.0231},{"s":"3rd HT","x":2.44,"z":0.02285},{"s":"3rd HT","x":2.48,"z":0.0226},{"s":"3rd HT","x":2.52,"z":0.02235},{"s":"3rd HT","x":2.56,"z":0.0221},{"s":"3rd HT","x":2.60,"z":0.02185},{"s":"3rd HT","x":2.64,"z":0.0216},{"s":"3rd HT","x":2.68,"z":0.0213},{"s":"3rd HT","x":2.71,"z":0.0218},{"s":"3rd HT","x":2.72,"z":0.0210},{"s":"3rd HT","x":2.76,"z":0.02065},{"s":"3rd HT","x":2.80,"z":0.0203},{"s":"3rd HT","x":2.84,"z":0.01995},{"s":"3rd HT","x":2.88,"z":0.0196},{"s":"3rd HT","x":2.92,"z":0.01925},{"s":"3rd HT","x":2.96,"z":0.0189},{"s":"3rd HT","x":3.00,"z":0.01855},{"s":"3rd HT","x":3.04,"z":0.0182},{"s":"3rd HT","x":3.08,"z":0.01785},{"s":"3rd HT","x":3.12,"z":0.0175},{"s":"3rd HT","x":3.16,"z":0.01715},{"s":"3rd HT","x":3.20,"z":0.01675},{"s":"3rd HT","x":3.24,"z":0.0163},{"s":"3rd HT","x":3.28,"z":0.01575},{"s":"3rd HT","x":3.32,"z":0.0152},{"s":"3rd HT","x":3.36,"z":0.0146},{"s":"3rd HT","x":3.40,"z":0.01405},{"s":"3rd HT","x":3.44,"z":0.01345},{"s":"3rd HT","x":3.48,"z":0.01285},{"s":"3rd HT","x":3.52,"z":0.01225},{"s":"3rd HT","x":3.56,"z":0.01165},{"s":"3rd HT","x":3.60,"z":0.01105},{"s":"3rd HT","x":3.64,"z":0.01045},{"s":"3rd HT","x":3.68,"z":0.00985},{"s":"3rd HT","x":3.71,"z":0.0092},{"s":"3rd HT","x":3.72,"z":0.0075},{"s":"3rd HT","x":3.72,"z":0.0065},
{"s":"3rd HT","x":0.22,"z":0.0089},{"s":"3rd HT","x":0.26,"z":0.0098},{"s":"3rd HT","x":0.30,"z":0.0106},{"s":"3rd HT","x":0.34,"z":0.0115},{"s":"3rd HT","x":0.38,"z":0.0124},{"s":"3rd HT","x":0.42,"z":0.0133},{"s":"3rd HT","x":0.46,"z":0.01425},{"s":"3rd HT","x":0.50,"z":0.01505},{"s":"3rd HT","x":0.54,"z":0.0156},{"s":"3rd HT","x":0.58,"z":0.0161},{"s":"3rd HT","x":0.62,"z":0.0165},{"s":"3rd HT","x":0.66,"z":0.0170},{"s":"3rd HT","x":0.70,"z":0.0174},{"s":"3rd HT","x":0.74,"z":0.0178},{"s":"3rd HT","x":0.78,"z":0.0182},{"s":"3rd HT","x":0.82,"z":0.0186},{"s":"3rd HT","x":0.86,"z":0.0190},{"s":"3rd HT","x":0.90,"z":0.0194},{"s":"3rd HT","x":0.94,"z":0.0198},{"s":"3rd HT","x":0.98,"z":0.0202},{"s":"3rd HT","x":1.02,"z":0.0205},{"s":"3rd HT","x":1.06,"z":0.0209},{"s":"3rd HT","x":1.10,"z":0.0212},{"s":"3rd HT","x":1.14,"z":0.02155},{"s":"3rd HT","x":1.18,"z":0.02185},{"s":"3rd HT","x":1.22,"z":0.02215},{"s":"3rd HT","x":1.26,"z":0.02245},{"s":"3rd HT","x":1.30,"z":0.0227},{"s":"3rd HT","x":1.34,"z":0.0230},{"s":"3rd HT","x":1.38,"z":0.0232},{"s":"3rd HT","x":1.42,"z":0.0234},{"s":"3rd HT","x":1.46,"z":0.0236},{"s":"3rd HT","x":1.50,"z":0.0238},{"s":"3rd HT","x":1.54,"z":0.0239},{"s":"3rd HT","x":1.58,"z":0.0241},{"s":"3rd HT","x":1.62,"z":0.0242},{"s":"3rd HT","x":1.66,"z":0.02435},{"s":"3rd HT","x":1.70,"z":0.02445},{"s":"3rd HT","x":1.74,"z":0.02455},{"s":"3rd HT","x":1.78,"z":0.02465},{"s":"3rd HT","x":1.82,"z":0.02475},{"s":"3rd HT","x":1.86,"z":0.02475},{"s":"3rd HT","x":1.90,"z":0.02475},{"s":"3rd HT","x":1.94,"z":0.02475},{"s":"3rd HT","x":1.98,"z":0.0247},{"s":"3rd HT","x":2.02,"z":0.0246},{"s":"3rd HT","x":2.06,"z":0.02455},{"s":"3rd HT","x":2.10,"z":0.02445},{"s":"3rd HT","x":2.14,"z":0.02435},{"s":"3rd HT","x":2.18,"z":0.0242},{"s":"3rd HT","x":2.22,"z":0.02405},{"s":"3rd HT","x":2.26,"z":0.02385},{"s":"3rd HT","x":2.30,"z":0.02365},{"s":"3rd HT","x":2.34,"z":0.02345},{"s":"3rd HT","x":2.38,"z":0.0232},{"s":"3rd HT","x":2.42,"z":0.0230},{"s":"3rd HT","x":2.46,"z":0.0227},{"s":"3rd HT","x":2.50,"z":0.0225},{"s":"3rd HT","x":2.54,"z":0.0222},{"s":"3rd HT","x":2.58,"z":0.0220},{"s":"3rd HT","x":2.62,"z":0.0217},{"s":"3rd HT","x":2.66,"z":0.02145},{"s":"3rd HT","x":2.70,"z":0.02115},{"s":"3rd HT","x":2.74,"z":0.0208},{"s":"3rd HT","x":2.78,"z":0.0205},{"s":"3rd HT","x":2.82,"z":0.0201},{"s":"3rd HT","x":2.86,"z":0.0198},{"s":"3rd HT","x":2.90,"z":0.0194},{"s":"3rd HT","x":2.94,"z":0.0191},{"s":"3rd HT","x":2.98,"z":0.0187},{"s":"3rd HT","x":3.02,"z":0.0184},{"s":"3rd HT","x":3.06,"z":0.0180},{"s":"3rd HT","x":3.10,"z":0.0177},{"s":"3rd HT","x":3.14,"z":0.0173},{"s":"3rd HT","x":3.18,"z":0.01695},{"s":"3rd HT","x":3.22,"z":0.0165},{"s":"3rd HT","x":3.26,"z":0.0160},{"s":"3rd HT","x":3.30,"z":0.0155},{"s":"3rd HT","x":3.34,"z":0.0149},{"s":"3rd HT","x":3.38,"z":0.01435},{"s":"3rd HT","x":3.42,"z":0.01375},{"s":"3rd HT","x":3.46,"z":0.01315},{"s":"3rd HT","x":3.50,"z":0.01255},{"s":"3rd HT","x":3.54,"z":0.01195},{"s":"3rd HT","x":3.58,"z":0.01135},{"s":"3rd HT","x":3.62,"z":0.01075},{"s":"3rd HT","x":3.66,"z":0.01015},
{"s":"3rd HT","x":3.73,"z":0.0034},{"s":"3rd HT","x":3.75,"z":0.0028},{"s":"3rd HT","x":3.77,"z":0.0022},{"s":"3rd HT","x":3.79,"z":0.0017},{"s":"3rd HT","x":3.81,"z":0.0013},{"s":"3rd HT","x":3.84,"z":0.0009},{"s":"3rd HT","x":3.87,"z":0.0005},{"s":"3rd HT","x":3.89,"z":0.0002},

{"s":"4th HT","x":0.10,"z":0.0002},{"s":"4th HT","x":0.12,"z":0.0005},{"s":"4th HT","x":0.14,"z":0.0009},{"s":"4th HT","x":0.16,"z":0.0014},{"s":"4th HT","x":0.17,"z":0.0029},
{"s":"4th HT","x":0.20,"z":0.0085},{"s":"4th HT","x":0.22,"z":0.0093},{"s":"4th HT","x":0.24,"z":0.0098},{"s":"4th HT","x":0.28,"z":0.0106},{"s":"4th HT","x":0.32,"z":0.0115},{"s":"4th HT","x":0.36,"z":0.01235},{"s":"4th HT","x":0.40,"z":0.01335},{"s":"4th HT","x":0.44,"z":0.0143},{"s":"4th HT","x":0.48,"z":0.01525},{"s":"4th HT","x":0.52,"z":0.01595},{"s":"4th HT","x":0.56,"z":0.0165},{"s":"4th HT","x":0.60,"z":0.0170},{"s":"4th HT","x":0.64,"z":0.01745},{"s":"4th HT","x":0.68,"z":0.01795},{"s":"4th HT","x":0.72,"z":0.0184},{"s":"4th HT","x":0.76,"z":0.0188},{"s":"4th HT","x":0.80,"z":0.01925},{"s":"4th HT","x":0.84,"z":0.0197},{"s":"4th HT","x":0.88,"z":0.02015},{"s":"4th HT","x":0.92,"z":0.0206},{"s":"4th HT","x":0.96,"z":0.02105},{"s":"4th HT","x":1.00,"z":0.02145},{"s":"4th HT","x":1.04,"z":0.02185},{"s":"4th HT","x":1.08,"z":0.0222},{"s":"4th HT","x":1.12,"z":0.02255},{"s":"4th HT","x":1.16,"z":0.02285},{"s":"4th HT","x":1.20,"z":0.0232},{"s":"4th HT","x":1.24,"z":0.0235},{"s":"4th HT","x":1.28,"z":0.0238},{"s":"4th HT","x":1.32,"z":0.02405},{"s":"4th HT","x":1.36,"z":0.0243},{"s":"4th HT","x":1.40,"z":0.02455},{"s":"4th HT","x":1.44,"z":0.02475},{"s":"4th HT","x":1.48,"z":0.02495},{"s":"4th HT","x":1.52,"z":0.02515},{"s":"4th HT","x":1.56,"z":0.02535},{"s":"4th HT","x":1.60,"z":0.02555},{"s":"4th HT","x":1.64,"z":0.02575},{"s":"4th HT","x":1.68,"z":0.0259},{"s":"4th HT","x":1.72,"z":0.0260},{"s":"4th HT","x":1.76,"z":0.0261},{"s":"4th HT","x":1.77,"z":0.0266},{"s":"4th HT","x":1.80,"z":0.0262},{"s":"4th HT","x":1.84,"z":0.0262},{"s":"4th HT","x":1.88,"z":0.0262},{"s":"4th HT","x":1.92,"z":0.02615},{"s":"4th HT","x":1.96,"z":0.0261},{"s":"4th HT","x":2.00,"z":0.02605},{"s":"4th HT","x":2.04,"z":0.02595},{"s":"4th HT","x":2.08,"z":0.0258},{"s":"4th HT","x":2.12,"z":0.02565},{"s":"4th HT","x":2.16,"z":0.0255},{"s":"4th HT","x":2.20,"z":0.02535},{"s":"4th HT","x":2.24,"z":0.0252},{"s":"4th HT","x":2.28,"z":0.0250},{"s":"4th HT","x":2.32,"z":0.0248},{"s":"4th HT","x":2.36,"z":0.0246},{"s":"4th HT","x":2.40,"z":0.0244},{"s":"4th HT","x":2.44,"z":0.0242},{"s":"4th HT","x":2.48,"z":0.02395},{"s":"4th HT","x":2.52,"z":0.0237},{"s":"4th HT","x":2.56,"z":0.02345},{"s":"4th HT","x":2.60,"z":0.0232},{"s":"4th HT","x":2.64,"z":0.0229},{"s":"4th HT","x":2.68,"z":0.02255},{"s":"4th HT","x":2.72,"z":0.0222},{"s":"4th HT","x":2.76,"z":0.0218},{"s":"4th HT","x":2.80,"z":0.0214},{"s":"4th HT","x":2.84,"z":0.0210},{"s":"4th HT","x":2.88,"z":0.0206},{"s":"4th HT","x":2.92,"z":0.0202},{"s":"4th HT","x":2.96,"z":0.0198},{"s":"4th HT","x":3.00,"z":0.0194},{"s":"4th HT","x":3.04,"z":0.01905},{"s":"4th HT","x":3.08,"z":0.0187},{"s":"4th HT","x":3.12,"z":0.01835},{"s":"4th HT","x":3.16,"z":0.01795},{"s":"4th HT","x":3.20,"z":0.0175},{"s":"4th HT","x":3.24,"z":0.0170},{"s":"4th HT","x":3.28,"z":0.0164},{"s":"4th HT","x":3.32,"z":0.0158},{"s":"4th HT","x":3.36,"z":0.0152},{"s":"4th HT","x":3.40,"z":0.0146},{"s":"4th HT","x":3.44,"z":0.0140},{"s":"4th HT","x":3.48,"z":0.01335},{"s":"4th HT","x":3.52,"z":0.01275},{"s":"4th HT","x":3.56,"z":0.01215},{"s":"4th HT","x":3.60,"z":0.0115},{"s":"4th HT","x":3.64,"z":0.01085},{"s":"4th HT","x":3.68,"z":0.0102},
{"s":"4th HT","x":0.26,"z":0.0102},{"s":"4th HT","x":0.30,"z":0.01105},{"s":"4th HT","x":0.34,"z":0.0119},{"s":"4th HT","x":0.38,"z":0.01285},{"s":"4th HT","x":0.42,"z":0.01385},{"s":"4th HT","x":0.46,"z":0.0148},{"s":"4th HT","x":0.50,"z":0.0156},{"s":"4th HT","x":0.54,"z":0.0162},{"s":"4th HT","x":0.58,"z":0.01675},{"s":"4th HT","x":0.62,"z":0.0172},{"s":"4th HT","x":0.66,"z":0.0177},{"s":"4th HT","x":0.70,"z":0.01815},{"s":"4th HT","x":0.74,"z":0.0186},{"s":"4th HT","x":0.78,"z":0.01905},{"s":"4th HT","x":0.82,"z":0.0195},{"s":"4th HT","x":0.86,"z":0.0199},{"s":"4th HT","x":0.90,"z":0.0204},{"s":"4th HT","x":0.94,"z":0.0208},{"s":"4th HT","x":0.98,"z":0.02125},{"s":"4th HT","x":1.02,"z":0.02165},{"s":"4th HT","x":1.06,"z":0.0220},{"s":"4th HT","x":1.10,"z":0.0224},{"s":"4th HT","x":1.14,"z":0.0227},{"s":"4th HT","x":1.18,"z":0.0230},{"s":"4th HT","x":1.22,"z":0.02335},{"s":"4th HT","x":1.26,"z":0.02365},{"s":"4th HT","x":1.30,"z":0.02395},{"s":"4th HT","x":1.34,"z":0.0242},{"s":"4th HT","x":1.38,"z":0.02445},{"s":"4th HT","x":1.42,"z":0.02465},{"s":"4th HT","x":1.46,"z":0.02485},{"s":"4th HT","x":1.50,"z":0.02505},{"s":"4th HT","x":1.54,"z":0.02525},{"s":"4th HT","x":1.58,"z":0.02545},{"s":"4th HT","x":1.62,"z":0.02565},{"s":"4th HT","x":1.66,"z":0.0258},{"s":"4th HT","x":1.70,"z":0.02595},{"s":"4th HT","x":1.74,"z":0.02605},{"s":"4th HT","x":1.78,"z":0.02615},{"s":"4th HT","x":1.82,"z":0.0262},{"s":"4th HT","x":1.86,"z":0.0262},{"s":"4th HT","x":1.90,"z":0.0262},{"s":"4th HT","x":1.94,"z":0.0261},{"s":"4th HT","x":1.98,"z":0.0261},{"s":"4th HT","x":2.02,"z":0.0260},{"s":"4th HT","x":2.06,"z":0.0259},{"s":"4th HT","x":2.10,"z":0.0257},{"s":"4th HT","x":2.14,"z":0.0256},{"s":"4th HT","x":2.18,"z":0.02545},{"s":"4th HT","x":2.22,"z":0.0253},{"s":"4th HT","x":2.26,"z":0.0251},{"s":"4th HT","x":2.30,"z":0.0249},{"s":"4th HT","x":2.34,"z":0.0247},{"s":"4th HT","x":2.38,"z":0.0245},{"s":"4th HT","x":2.42,"z":0.0243},{"s":"4th HT","x":2.46,"z":0.0241},{"s":"4th HT","x":2.50,"z":0.0238},{"s":"4th HT","x":2.54,"z":0.0236},{"s":"4th HT","x":2.58,"z":0.0233},{"s":"4th HT","x":2.62,"z":0.02305},{"s":"4th HT","x":2.66,"z":0.0227},{"s":"4th HT","x":2.70,"z":0.0224},{"s":"4th HT","x":2.74,"z":0.0220},{"s":"4th HT","x":2.78,"z":0.0216},{"s":"4th HT","x":2.82,"z":0.0212},{"s":"4th HT","x":2.86,"z":0.0208},{"s":"4th HT","x":2.90,"z":0.0204},{"s":"4th HT","x":2.94,"z":0.0200},{"s":"4th HT","x":2.98,"z":0.0196},{"s":"4th HT","x":3.02,"z":0.0192},{"s":"4th HT","x":3.06,"z":0.0189},{"s":"4th HT","x":3.10,"z":0.0185},{"s":"4th HT","x":3.14,"z":0.01815},{"s":"4th HT","x":3.18,"z":0.01775},{"s":"4th HT","x":3.22,"z":0.01725},{"s":"4th HT","x":3.26,"z":0.0167},{"s":"4th HT","x":3.30,"z":0.0161},{"s":"4th HT","x":3.34,"z":0.0155},{"s":"4th HT","x":3.38,"z":0.0149},{"s":"4th HT","x":3.42,"z":0.0143},{"s":"4th HT","x":3.46,"z":0.01365},{"s":"4th HT","x":3.50,"z":0.01305},{"s":"4th HT","x":3.54,"z":0.01245},{"s":"4th HT","x":3.58,"z":0.0118},{"s":"4th HT","x":3.62,"z":0.0112},{"s":"4th HT","x":3.66,"z":0.0105},
{"s":"4th HT","x":3.73,"z":0.0034},{"s":"4th HT","x":3.75,"z":0.0028},{"s":"4th HT","x":3.77,"z":0.0022},{"s":"4th HT","x":3.79,"z":0.0017},{"s":"4th HT","x":3.81,"z":0.0013},{"s":"4th HT","x":3.84,"z":0.0009},{"s":"4th HT","x":3.87,"z":0.0005},{"s":"4th HT","x":3.89,"z":0.0002}
]},
"mark":{"type":"point","opacity":1,"strokeWidth":2},
"encoding":{
 "fill":{"field":"s","type":"nominal","scale":{"domain":["No HT","1st HT","2nd HT","3rd HT","4th HT"],"range":["#3b3d78","#f2ec1c","#a03c78","#3c4640","#4a90c8"]},
  "legend":{"title":null,"orient":"none","legendX":414,"legendY":2,"fillColor":"#f8d4a4","strokeColor":"#333333","padding":5,"rowPadding":6,"labelFont":"Liberation Sans","labelFontSize":15.5,"labelOffset":3,"labelLimit":400,"symbolOffset":6,"symbolSize":55,"symbolStrokeWidth":2,"labelExpr":"'Coated 5 Layer ' + datum.label",
   "labelColor":{"expr":"datum.value == 'No HT' ? '#3b3d72' : datum.value == '1st HT' ? '#f0e81c' : datum.value == '2nd HT' ? '#d9775c' : datum.value == '3rd HT' ? '#3b4234' : '#5a82aa'"}}},
 "stroke":{"field":"s","type":"nominal","scale":{"domain":["No HT","1st HT","2nd HT","3rd HT","4th HT"],"range":["#3b3d78","#f2ec1c","#a03c78","#3c4640","#4a90c8"]},
  "legend":{"title":null,"orient":"none","legendX":414,"legendY":2,"fillColor":"#f8d4a4","strokeColor":"#333333","padding":5,"rowPadding":6,"labelFont":"Liberation Sans","labelFontSize":15.5,"labelOffset":3,"labelLimit":400,"symbolOffset":6,"symbolSize":55,"symbolStrokeWidth":2,"labelExpr":"'Coated 5 Layer ' + datum.label",
   "labelColor":{"expr":"datum.value == 'No HT' ? '#3b3d72' : datum.value == '1st HT' ? '#f0e81c' : datum.value == '2nd HT' ? '#d9775c' : datum.value == '3rd HT' ? '#3b4234' : '#5a82aa'"}}},
 "shape":{"field":"s","type":"nominal","scale":{"domain":["No HT","1st HT","2nd HT","3rd HT","4th HT"],"range":["diamond","square","M-1,-1L1,1M-1,1L1,-1","M-1,0L1,0M0,-1L0,1","M-1,0L1,0"]},
  "legend":{"title":null,"orient":"none","legendX":414,"legendY":2,"fillColor":"#f8d4a4","strokeColor":"#333333","padding":5,"rowPadding":6,"labelFont":"Liberation Sans","labelFontSize":15.5,"labelOffset":3,"labelLimit":400,"symbolOffset":6,"symbolSize":55,"symbolStrokeWidth":2,"labelExpr":"'Coated 5 Layer ' + datum.label",
   "labelColor":{"expr":"datum.value == 'No HT' ? '#3b3d72' : datum.value == '1st HT' ? '#f0e81c' : datum.value == '2nd HT' ? '#d9775c' : datum.value == '3rd HT' ? '#3b4234' : '#5a82aa'"}}},
 "size":{"value":55}
}
},
{
"data":{"values":[{"x":1.85,"z":0.0257,"z2":0.0168}]},
"mark":{"type":"rule","color":"#262b27","strokeWidth":3},
"encoding":{"y2":{"field":"z2"}}
},
{
"data":{"values":[{"x":1.85,"z":0.0258}]},
"mark":{"type":"point","shape":"triangle-up","filled":true,"color":"#262b27","opacity":1,"size":290},
"encoding":{}
},
{
"data":{"values":[{"x":1.85,"z":0.01673}]},
"mark":{"type":"point","shape":"triangle-down","filled":true,"color":"#262b27","opacity":1,"size":290},
"encoding":{}
}
]
}
